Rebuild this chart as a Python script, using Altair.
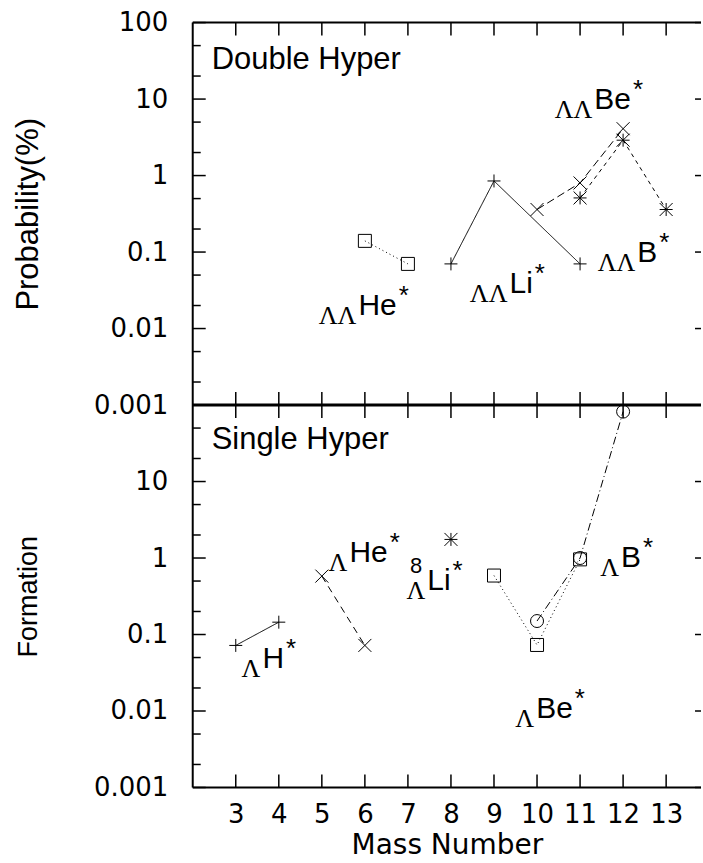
import altair as alt
import pandas as pd

# ---------------- data ----------------
mass_ticks = list(range(3, 14))
x_domain = [2, 13.81]
y_major_top = [0.001, 0.01, 0.1, 1, 10, 100]
y_major_bottom = [0.001, 0.01, 0.1, 1, 10]
y_minor = [0.002, 0.005, 0.02, 0.05, 0.2, 0.5, 2, 5, 20, 50]

series_names = ["ΛΛHe", "ΛΛLi", "ΛΛBe", "ΛΛB", "ΛH", "ΛHe", "ΛLi", "ΛBe", "ΛB"]
series_panel = ["double", "double", "double", "double",
                "single", "single", "single", "single", "single"]
series_x = [[6, 7], [8, 9, 11], [10, 11, 12], [11, 12, 13],
            [3, 4], [5, 6], [8], [9, 10, 11], [10, 11, 12]]
series_y = [[0.14, 0.07], [0.07, 0.85, 0.07], [0.36, 0.80, 4.1], [0.51, 2.9, 0.36],
            [0.072, 0.145], [0.58, 0.072], [1.75], [0.59, 0.073, 0.96], [0.15, 1.0, 82]]

label_prefix = ["ΛΛ", "ΛΛ", "ΛΛ", "ΛΛ", "Λ", "Λ", "Λ", "Λ", "Λ"]
label_main = ["He", "Li", "Be", "B", "H", "He", "Li", "Be", "B"]
label_mass = ["", "", "", "", "", "", "8", "", ""]
label_x = [5.85, 9.36, 11.33, 12.33, 3.62, 5.64, 7.45, 9.98, 11.95]
label_y = [0.015, 0.029, 7.5, 0.074, 0.037, 0.88, 0.38, 0.008, 0.76]

panel_titles = {"double": "Double Hyper", "single": "Single Hyper"}
y_titles = {"double": "Probability(%)", "single": "Formation"}

# ---------------- styles ----------------
W, H = 509, 383
FONT = "Liberation Sans"
NUMFONT = "DejaVu Sans"
SERIF = "Liberation Serif"
MAIN_FS = 30
PX_PER_UNIT = W / (x_domain[1] - x_domain[0])
CHAR_W = {"H": 0.722, "e": 0.556, "L": 0.556, "i": 0.222, "B": 0.667}
Y_TITLE_FS = {"double": 31, "single": 27}

PLUS = "M-1,0H1M0,-1V1"
XMARK = "M-1,-1L1,1M-1,1L1,-1"
STAR = "M-1,0H1M0,-1V1M-1,-1L1,1M-1,1L1,-1"
shape_range = ["square", PLUS, XMARK, STAR, PLUS, XMARK, STAR, "square", "circle"]
dash_range = [[1, 3], [1, 0], [8, 4], [4, 4], [1, 0], [7, 5], [1, 0], [1, 3], [8, 3, 1, 3]]

rows = []
for n, p, xs, ys in zip(series_names, series_panel, series_x, series_y):
    for xv, yv in zip(xs, ys):
        rows.append({"series": n, "panel": p, "x": xv, "y": yv})
df = pd.DataFrame(rows)

lab = pd.DataFrame({
    "panel": series_panel, "prefix": label_prefix, "main": label_main,
    "mass": label_mass, "x": label_x, "y": label_y,
})
lab["star"] = "*"
lab["star_x"] = [
    x + (sum(CHAR_W[c] for c in m) * MAIN_FS + 2) / PX_PER_UNIT
    for x, m in zip(lab["x"], lab["main"])
]

xscale = alt.Scale(domain=x_domain, nice=False, zero=False)
yscale = alt.Scale(type="log", domain=[0.001, 100], nice=False)
shape_scale = alt.Scale(domain=series_names, range=shape_range)
dash_scale = alt.Scale(domain=series_names, range=dash_range)


def panel(pname, show_x_axis):
    majors = y_major_top if pname == "double" else y_major_bottom
    yaxis = alt.Axis(values=majors, format="~g", ticks=False, tickSize=0, domain=False,
                     grid=False, labelFont=NUMFONT, labelFontSize=26, labelColor="black",
                     labelPadding=25, labelOverlap=False, labelBound=False, labelFlush=False,
                     title=y_titles[pname], titleFont=FONT, titleFontSize=Y_TITLE_FS[pname],
                     titleFontWeight="normal", titleColor="black",
                     titleX=-164, titleY=H / 2, titleBaseline="middle", titleAngle=270)
    if show_x_axis:
        xaxis = alt.Axis(values=mass_ticks, ticks=False, tickSize=0, domain=False, grid=False,
                         labelFont=NUMFONT, labelFontSize=26, labelColor="black",
                         labelPadding=14, labelFlush=False, labelOverlap=False,
                         title="Mass Number", titleFont=NUMFONT, titleFontSize=28,
                         titleFontWeight="normal", titleColor="black", titlePadding=4)
    else:
        xaxis = None

    def X(f="x"):
        return alt.X(f + ":Q", scale=xscale, axis=xaxis)

    def Y(f="y"):
        return alt.Y(f + ":Q", scale=yscale, axis=yaxis)

    one = alt.Data(values=[{"a": 1}])
    major_df = pd.DataFrame({"y": y_major_top})
    minor_df = pd.DataFrame({"y": y_minor})
    xt_df = pd.DataFrame({"x": mass_ticks})
    d = df[df["panel"] == pname]
    l = lab[lab["panel"] == pname]
    bottom_w = 3 if pname == "double" else 2

    layers = [
        alt.Chart(major_df).mark_rule(color="black", strokeWidth=1.5).encode(
            y=Y(), x=alt.value(0), x2=alt.value(13)),
        alt.Chart(minor_df).mark_rule(color="black", strokeWidth=1.5).encode(
            y=Y(), x=alt.value(0), x2=alt.value(8)),
        alt.Chart(major_df).mark_rule(color="black", strokeWidth=1.5).encode(
            y=Y(), x=alt.value(W - 6), x2=alt.value(W)),
        alt.Chart(xt_df).mark_rule(color="black", strokeWidth=1.5).encode(
            x=X(), y=alt.value(0), y2=alt.value(13)),
        alt.Chart(xt_df).mark_rule(color="black", strokeWidth=1.5).encode(
            x=X(), y=alt.value(H - 13), y2=alt.value(H)),
        alt.Chart(one).mark_rule(color="black", strokeWidth=2).encode(
            x=alt.value(0), x2=alt.value(W), y=alt.value(0)),
        alt.Chart(one).mark_rule(color="black", strokeWidth=bottom_w).encode(
            x=alt.value(0), x2=alt.value(W), y=alt.value(H)),
        alt.Chart(one).mark_rule(color="black", strokeWidth=2).encode(
            x=alt.value(0), y=alt.value(0), y2=alt.value(H)),
        alt.Chart(d).mark_line(color="black", strokeWidth=1).encode(
            x=X(), y=Y(), detail="series:N",
            strokeDash=alt.StrokeDash("series:N", scale=dash_scale, legend=None)),
        alt.Chart(d).mark_point(color="black", filled=False, strokeWidth=1, size=169,
                                opacity=1).encode(
            x=X(), y=Y(),
            shape=alt.Shape("series:N", scale=shape_scale, legend=None)),
        alt.Chart(l).mark_text(font=FONT, fontSize=MAIN_FS, align="left",
                               baseline="alphabetic", color="black").encode(
            x=X(), y=Y(), text="main:N"),
        alt.Chart(l).mark_text(font=SERIF, fontSize=26, align="right", dx=-2, dy=9,
                               baseline="alphabetic", color="black").encode(
            x=X(), y=Y(), text="prefix:N"),
        alt.Chart(l).mark_text(font=FONT, fontSize=26, align="left", dy=-11,
                               baseline="alphabetic", color="black").encode(
            x=X("star_x"), y=Y(), text="star:N"),
        alt.Chart(l[l["mass"] != ""]).mark_text(font=FONT, fontSize=22, align="right",
                                                 dx=-5, dy=-17, baseline="alphabetic",
                                                 color="black").encode(
            x=X(), y=Y(), text="mass:N"),
        alt.Chart(one).mark_text(font=FONT, fontSize=31, align="left",
                                 baseline="alphabetic", color="black").encode(
            x=alt.value(19), y=alt.value(46 if pname == "double" else 44),
            text=alt.value(panel_titles[pname])),
    ]
    return alt.layer(*layers).properties(width=W, height=H)


top = panel("double", False)
bottom = panel("single", True)

chart = alt.vconcat(top, bottom, spacing=0, bounds="flush").resolve_scale(
    y="independent"
).properties(
    padding={"left": 13, "top": 9, "right": 0, "bottom": 0}
).configure_view(stroke=None)

chart.save("out.html", embed_options={"renderer": "svg", "actions": False})
